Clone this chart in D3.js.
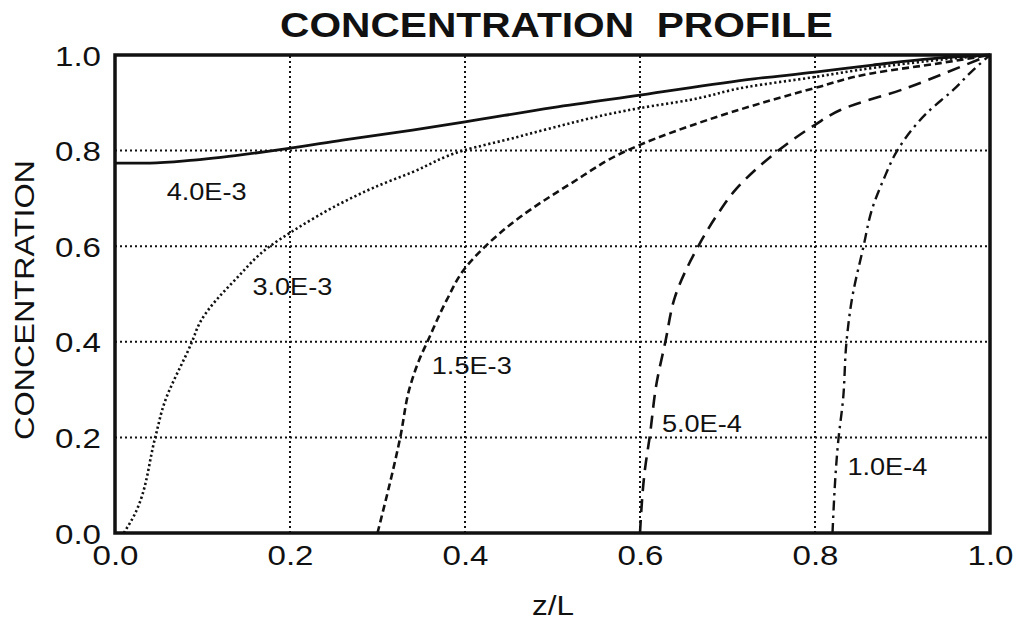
<!DOCTYPE html>
<html><head><meta charset="utf-8">
<script src="https://cdn.jsdelivr.net/npm/d3@7"></script>
<style>body{margin:0;background:#fff}svg{display:block}text{font-family:"Liberation Sans",Arial,Helvetica,sans-serif;fill:#111}</style>
</head><body><svg id="c" width="1020" height="622"></svg>
<script>
const xTicks = [0.0,0.2,0.4,0.6,0.8,1.0];
const yTicks = [0.0,0.2,0.4,0.6,0.8,1.0];
const tickLabels = ["0.0","0.2","0.4","0.6","0.8","1.0"];

const seriesNames = ["4.0E-3","3.0E-3","1.5E-3","5.0E-4","1.0E-4"];
const s40e3 = [[0,0.774],[0.04,0.774],[0.09,0.78],[0.2,0.805],[0.26,0.822],[0.34,0.843],[0.4,0.86],[0.5,0.89],[0.6,0.916],[0.73,0.95],[0.8,0.964],[0.866,0.979],[0.943,0.994],[1.0,1.0]];
const s30e3 = [[0.01,0.0],[0.019,0.027],[0.046,0.2],[0.055,0.264],[0.088,0.4],[0.097,0.44],[0.139,0.533],[0.177,0.6],[0.2,0.628],[0.266,0.697],[0.295,0.722],[0.34,0.755],[0.398,0.8],[0.459,0.828],[0.494,0.845],[0.6,0.889],[0.657,0.906],[0.722,0.933],[0.8,0.954],[0.866,0.973],[0.943,0.99],[1.0,1.0]];
const s15e3 = [[0.3,0.0],[0.326,0.2],[0.337,0.305],[0.349,0.368],[0.357,0.4],[0.379,0.487],[0.4,0.554],[0.42,0.594],[0.463,0.661],[0.52,0.73],[0.585,0.8],[0.6,0.812],[0.677,0.864],[0.8,0.931],[0.866,0.962],[0.943,0.983],[1.0,1.0]];
const s50e4 = [[0.6,0.0],[0.606,0.138],[0.611,0.2],[0.619,0.314],[0.629,0.4],[0.64,0.494],[0.666,0.598],[0.688,0.665],[0.71,0.72],[0.735,0.765],[0.758,0.8],[0.8,0.854],[0.829,0.885],[0.905,0.931],[0.966,0.975],[1.0,1.0]];
const s10e4 = [[0.82,0.0],[0.827,0.2],[0.832,0.278],[0.836,0.4],[0.842,0.487],[0.855,0.596],[0.866,0.682],[0.878,0.738],[0.894,0.8],[0.928,0.879],[0.958,0.927],[0.981,0.969],[1.0,1.0]];
const seriesData = [s40e3,s30e3,s15e3,s50e4,s10e4];
const labelPos = [[0.059,0.697],[0.157,0.498],[0.362,0.333],[0.625,0.211],[0.837,0.121]];

const title = "CONCENTRATION  PROFILE";
const xLabel = "z/L";
const yLabel = "CONCENTRATION";

const svg = d3.select("#c");
const L=115,R=990,T=55,B=533;
const x = d3.scaleLinear().domain([0,1]).range([L,R]);
const y = d3.scaleLinear().domain([0,1]).range([B,T]);

// grid
const g = svg.append("g");
g.selectAll("line.vg").data(xTicks.slice(1,-1)).join("line")
 .attr("x1",d=>x(d)).attr("x2",d=>x(d)).attr("y1",y(0)).attr("y2",y(1))
 .attr("stroke","#111").attr("stroke-width",2).attr("stroke-dasharray","2,3");
g.selectAll("line.hg").data(yTicks.slice(1,-1)).join("line")
 .attr("y1",d=>y(d)).attr("y2",d=>y(d)).attr("x1",x(0)).attr("x2",x(1))
 .attr("stroke","#111").attr("stroke-width",2).attr("stroke-dasharray","2,3");

// axes via d3
const xAxis = d3.axisBottom(x).tickValues(xTicks).tickFormat((d,i)=>tickLabels[i]).tickSize(0).tickPadding(14);
const yAxis = d3.axisLeft(y).tickValues(yTicks).tickFormat((d,i)=>tickLabels[i]).tickSize(0).tickPadding(14);
const ax = svg.append("g").attr("transform",`translate(0,${B})`).call(xAxis);
const ay = svg.append("g").attr("transform",`translate(${L},0)`).call(yAxis);
[ax,ay].forEach(a=>{a.select(".domain").remove();a.selectAll("text").attr("font-size",28).attr("fill","#111").attr("textLength",46).attr("lengthAdjust","spacingAndGlyphs");});
ax.selectAll("text").attr("dy","0.71em").attr("y",12);
ay.selectAll("text").attr("dy","0.36em").attr("x",-14);

// series
const styles = [
 {w:2.8,dash:null},
 {w:2.6,dash:"2.2,2.6"},
 {w:2.6,dash:"7,4"},
 {w:2.6,dash:"13,8"},
 {w:2.4,dash:"10,5,2.5,5"}
];
const line = d3.line().x(d=>x(d[0])).y(d=>y(d[1])).curve(d3.curveMonotoneX);
const lineV = d3.line().x(d=>x(d[0])).y(d=>y(d[1])).curve(d3.curveMonotoneY);
seriesData.forEach((s,i)=>{
  svg.append("path").datum(s).attr("d", i===0?line:lineV)
   .attr("fill","none").attr("stroke","#111").attr("stroke-width",styles[i].w)
   .attr("stroke-dasharray",styles[i].dash).attr("stroke-linejoin","round");
});
svg.selectAll("text.lab").data(seriesNames).join("text").attr("class","lab")
 .attr("x",(d,i)=>x(labelPos[i][0])).attr("y",(d,i)=>y(labelPos[i][1]))
 .attr("font-size",24).attr("textLength",80).attr("lengthAdjust","spacingAndGlyphs").text(d=>d);

// frame
svg.append("rect").attr("x",L).attr("y",T).attr("width",R-L).attr("height",B-T)
 .attr("fill","none").attr("stroke","#111").attr("stroke-width",3.5);

// titles
svg.append("text").attr("x",280).attr("y",37).attr("text-anchor","start")
 .attr("font-size",35).attr("font-weight","bold").attr("textLength",553).attr("lengthAdjust","spacingAndGlyphs")
 .style("white-space","pre").text(title);
svg.append("text").attr("x",553).attr("y",615).attr("text-anchor","middle")
 .attr("font-size",27).attr("textLength",42).attr("lengthAdjust","spacingAndGlyphs").text(xLabel);
svg.append("text").attr("transform","translate(34,300) rotate(-90)").attr("text-anchor","middle")
 .attr("font-size",27).attr("textLength",280).attr("lengthAdjust","spacingAndGlyphs").text(yLabel);
</script></body></html>
